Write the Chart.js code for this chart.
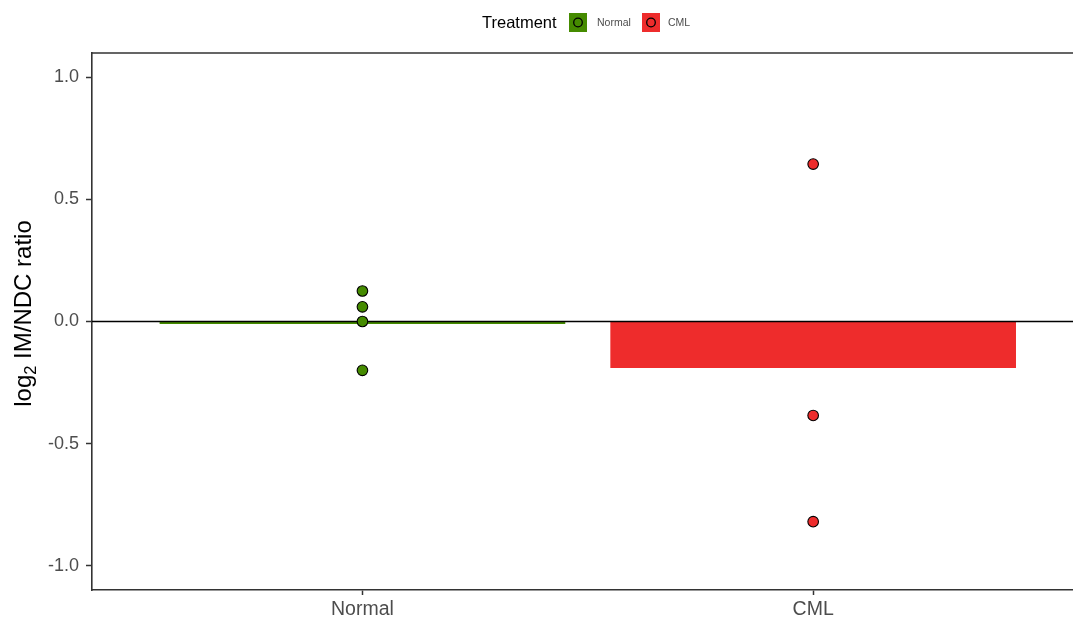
<!DOCTYPE html>
<html>
<head>
<meta charset="utf-8">
<script src="https://cdn.jsdelivr.net/npm/chart.js@4/dist/chart.umd.min.js"></script>
<style>
  html, body { margin: 0; padding: 0; background: #ffffff; overflow: hidden; }
  #wrap { position: absolute; left: 0; top: 0; width: 1090px; height: 621px; }
</style>
</head>
<body>
<div id="wrap"><canvas id="c" width="1090" height="621"></canvas></div>
<script>
// Groups on the x axis
const categories = ['Normal', 'CML'];
// Individual log2 IM/NDC ratios per group
const normalPoints = [0.125, 0.06, 0.0, -0.2];
const cmlPoints = [0.645, -0.385, -0.82];
// Group mean shown as bar height
const barMeans = [-0.01, -0.19];
// Y tick values
const yTicks = [-1.0, -0.5, 0.0, 0.5, 1.0];
const legendTitle = 'Treatment';
const yTitleParts = ['log', '2', ' IM/NDC ratio'];

const groupColors = ['#458B00', '#EE2C2C'];
const FONT = '"Liberation Sans", Arial, sans-serif';

// Horizontal reference line at y = 0, drawn right after the bars
const zeroLine = {
  id: 'zeroLine',
  afterDatasetDraw(chart, args) {
    if (args.meta.type !== 'bar') return;
    const { ctx, chartArea, scales } = chart;
    const y = scales.y.getPixelForValue(0);
    ctx.save();
    ctx.strokeStyle = '#000000';
    ctx.lineWidth = 1.6;
    ctx.beginPath();
    ctx.moveTo(chartArea.left, y);
    ctx.lineTo(chartArea.right, y);
    ctx.stroke();
    ctx.restore();
  }
};

// Panel top/right edges, y axis title with subscript, and legend
const decorations = {
  id: 'decorations',
  afterDraw(chart) {
    const { ctx, chartArea } = chart;
    ctx.save();
    ctx.strokeStyle = '#333333';
    ctx.lineWidth = 1.6;
    ctx.beginPath();
    ctx.moveTo(chartArea.left, chartArea.top);
    ctx.lineTo(chartArea.right, chartArea.top);
    ctx.moveTo(chartArea.right, chartArea.top);
    ctx.lineTo(chartArea.right, chartArea.bottom);
    ctx.stroke();

    // y title
    const big = '24px ' + FONT, small = '16.5px ' + FONT;
    ctx.font = big; const w0 = ctx.measureText(yTitleParts[0]).width;
    ctx.font = small; const w1 = ctx.measureText(yTitleParts[1]).width;
    ctx.font = big; const w2 = ctx.measureText(yTitleParts[2]).width;
    const total = w0 + w1 + w2;
    const cy = (chartArea.top + chartArea.bottom) / 2 - 8;
    ctx.translate(31, cy);
    ctx.rotate(-Math.PI / 2);
    ctx.fillStyle = '#000000';
    ctx.textAlign = 'left';
    ctx.textBaseline = 'alphabetic';
    let x = -total / 2;
    ctx.font = big; ctx.fillText(yTitleParts[0], x, 0); x += w0;
    ctx.font = small; ctx.fillText(yTitleParts[1], x, 5); x += w1;
    ctx.font = big; ctx.fillText(yTitleParts[2], x, 0);
    ctx.restore();

    // legend
    ctx.save();
    ctx.textBaseline = 'middle';
    ctx.textAlign = 'left';
    ctx.fillStyle = '#000000';
    ctx.font = '16.5px ' + FONT;
    ctx.fillText(legendTitle, 482, 23);
    const keyX = [569, 642];
    const labelX = [597, 668];
    categories.forEach((cat, i) => {
      ctx.fillStyle = groupColors[i];
      ctx.fillRect(keyX[i], 13, 18, 19);
      ctx.beginPath();
      ctx.arc(keyX[i] + 9, 22.5, 4.3, 0, Math.PI * 2);
      ctx.strokeStyle = '#000000';
      ctx.lineWidth = 1.3;
      ctx.stroke();
      ctx.fillStyle = '#4d4d4d';
      ctx.font = '10.5px ' + FONT;
      ctx.fillText(cat, labelX[i], 23);
    });
    ctx.restore();
  }
};

const barData = categories.map((c, i) => ({ x: i + 1, y: barMeans[i] }));
const normalData = normalPoints.map(v => ({ x: 1, y: v }));
const cmlData = cmlPoints.map(v => ({ x: 2, y: v }));

new Chart(document.getElementById('c'), {
  type: 'bar',
  data: {
    datasets: [
      {
        type: 'bar',
        label: 'mean',
        data: barData,
        backgroundColor: groupColors,
        borderWidth: 0,
        barPercentage: 0.9,
        categoryPercentage: 1.0,
        order: 2
      },
      {
        type: 'scatter',
        label: categories[0],
        data: normalData,
        backgroundColor: groupColors[0],
        borderColor: '#000000',
        borderWidth: 1.1,
        pointRadius: 5.3,
        order: 1
      },
      {
        type: 'scatter',
        label: categories[1],
        data: cmlData,
        backgroundColor: groupColors[1],
        borderColor: '#000000',
        borderWidth: 1.1,
        pointRadius: 5.3,
        order: 1
      }
    ]
  },
  options: {
    responsive: false,
    animation: false,
    events: [],
    layout: { padding: { top: 53, right: 6, bottom: 0, left: 0 } },
    plugins: {
      legend: { display: false },
      tooltip: { enabled: false }
    },
    scales: {
      x: {
        type: 'linear',
        min: 0.4,
        max: 2.6,
        offset: false,
        afterBuildTicks(scale) { scale.ticks = categories.map((c, i) => ({ value: i + 1 })); },
        afterFit(scale) { scale.height = 31; },
        ticks: {
          callback: (v) => categories[v - 1],
          color: '#4d4d4d',
          font: { family: FONT, size: 19.5 },
          padding: 3,
          maxRotation: 0
        },
        grid: { display: true, offset: false, drawOnChartArea: false, drawTicks: true, tickLength: 5, tickColor: '#333333', tickWidth: 1.5 },
        border: { display: true, color: '#333333', width: 1.6 }
      },
      y: {
        type: 'linear',
        min: -1.1,
        max: 1.1,
        afterBuildTicks(scale) { scale.ticks = yTicks.map(v => ({ value: v })); },
        afterFit(scale) { scale.width = 92; },
        ticks: {
          callback: (v) => Number(v).toFixed(1),
          color: '#4d4d4d',
          font: { family: FONT, size: 18 },
          padding: 7
        },
        grid: { display: true, drawOnChartArea: false, drawTicks: true, tickLength: 6, tickColor: '#333333', tickWidth: 1.5 },
        border: { display: true, color: '#333333', width: 1.6 }
      }
    }
  },
  plugins: [zeroLine, decorations]
});
</script>
</body>
</html>
